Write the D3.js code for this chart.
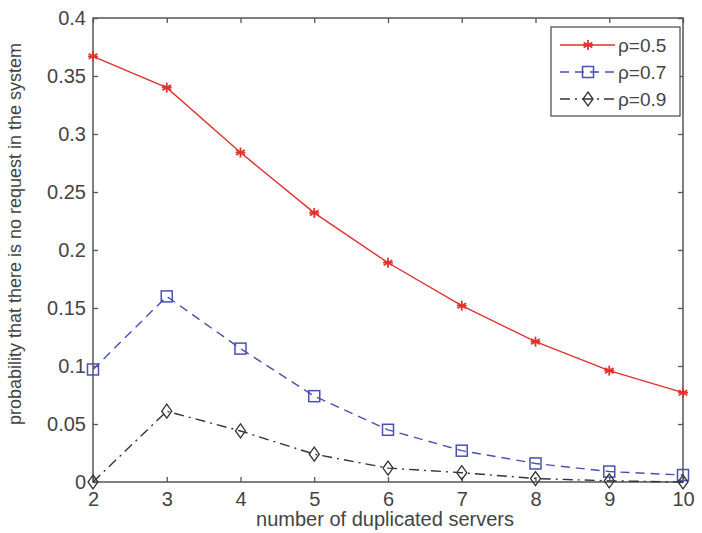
<!DOCTYPE html>
<html>
<head>
<meta charset="utf-8">
<script src="https://cdn.jsdelivr.net/npm/d3@7"></script>
<style>
	body { margin: 0; background: #fff; }
	svg text { font-family: "Liberation Sans", Arial, sans-serif; fill: #444; }
</style>
</head>
<body>
<div class="c-svg"></div>
<script>
//DATA
//-------------------------------------------------------------------------
const servers = [2, 3, 4, 5, 6, 7, 8, 9, 10];
const rho05 = [0.367, 0.340, 0.284, 0.232, 0.189, 0.152, 0.121, 0.096, 0.077];
const rho07 = [0.097, 0.160, 0.115, 0.074, 0.045, 0.027, 0.016, 0.009, 0.006];
const rho09 = [0.000, 0.061, 0.044, 0.024, 0.012, 0.008, 0.003, 0.001, 0.000];
const seriesNames = ["ρ=0.5", "ρ=0.7", "ρ=0.9"];
const yTicks = [0, 0.05, 0.1, 0.15, 0.2, 0.25, 0.3, 0.35, 0.4];
const xLabel = "number of duplicated servers";
const yLabel = "probability that there is no request in the system";

//opts for svg
const opts = {
	width: 702,
	height: 533,
	margin: { top: 18, right: 19, bottom: 51, left: 93 }
};
const innerChart = {
	width: opts.width - opts.margin.left - opts.margin.right,
	height: opts.height - opts.margin.top - opts.margin.bottom
};

const svg = d3.select(".c-svg")
	.append("svg")
	.attr("width", opts.width)
	.attr("height", opts.height);

const g = svg.append("g")
	.attr("transform", `translate(${opts.margin.left} ${opts.margin.top})`);

//scales
const x = d3.scaleLinear().domain([2, 10]).range([0, innerChart.width]);
const y = d3.scaleLinear().domain([0, 0.4]).range([innerChart.height, 0]);

const axisColor = "#555";
const tickFmt = d => d === 0 ? "0" : d3.format("")(d);

//AXES (matlab style, ticks inside, box)
//-------------------------------------------------------------------------
function styleAxis(sel) {
	sel.select(".domain").remove();
	sel.selectAll("line").attr("stroke", axisColor).attr("stroke-width", 1.3);
	sel.selectAll("text").style("font-size", "20px").attr("fill", "#444");
}

g.append("g")
	.attr("transform", `translate(0 ${innerChart.height})`)
	.call(d3.axisBottom(x).tickValues(servers).tickSize(-5).tickPadding(10).tickFormat(d3.format("d")))
	.call(styleAxis);

g.append("g")
	.call(d3.axisTop(x).tickValues(servers).tickSize(-5).tickFormat(""))
	.call(styleAxis);

g.append("g")
	.call(d3.axisLeft(y).tickValues(yTicks).tickSize(-5).tickPadding(7).tickFormat(tickFmt))
	.call(styleAxis);

g.append("g")
	.attr("transform", `translate(${innerChart.width} 0)`)
	.call(d3.axisRight(y).tickValues(yTicks).tickSize(-5).tickFormat(""))
	.call(styleAxis);

g.append("rect")
	.attr("width", innerChart.width)
	.attr("height", innerChart.height)
	.attr("fill", "none")
	.attr("stroke", axisColor)
	.attr("stroke-width", 1.5);

//labels
svg.append("text")
	.attr("x", opts.margin.left + innerChart.width / 2 - 3)
	.attr("y", 526)
	.attr("text-anchor", "middle")
	.style("font-size", "20px")
	.text(xLabel);

svg.append("text")
	.attr("transform", `translate(21 ${opts.margin.top + 216}) rotate(-90)`)
	.attr("text-anchor", "middle")
	.style("font-size", "18px")
	.text(yLabel);

//SERIES
//-------------------------------------------------------------------------
const series = [
	{ name: seriesNames[0], values: rho05, color: "#e0322e", dash: null, marker: "star" },
	{ name: seriesNames[1], values: rho07, color: "#4a4fb3", dash: "9,6", marker: "square" },
	{ name: seriesNames[2], values: rho09, color: "#333", dash: "10,5,2,5", marker: "diamond" }
];

const line = d3.line()
	.x((d, i) => x(servers[i]))
	.y(d => y(d));

function drawMarker(sel, type, color) {
	if (type === "star") {
		const r = 5;
		[0, 60, 120].forEach(a => {
			sel.append("line")
				.attr("x1", 0).attr("y1", -r).attr("x2", 0).attr("y2", r)
				.attr("transform", `rotate(${a})`)
				.attr("stroke", color).attr("stroke-width", 1.8);
		});
		sel.append("line").attr("x1", -r).attr("x2", r).attr("y1", 0).attr("y2", 0)
			.attr("stroke", color).attr("stroke-width", 1.5);
	} else if (type === "square") {
		sel.append("rect")
			.attr("x", -5.5).attr("y", -5.5).attr("width", 11).attr("height", 11)
			.attr("fill", "none").attr("stroke", color).attr("stroke-width", 1.5);
	} else {
		sel.append("path")
			.attr("d", "M0,-7L5,0L0,7L-5,0Z")
			.attr("fill", "none").attr("stroke", color).attr("stroke-width", 1.3);
	}
}

series.forEach(s => {
	g.append("path")
		.datum(s.values)
		.attr("d", line)
		.attr("fill", "none")
		.attr("stroke", s.color)
		.attr("stroke-width", 1.4)
		.attr("stroke-dasharray", s.dash);

	g.selectAll(null)
		.data(s.values)
		.join("g")
		.attr("transform", (d, i) => `translate(${x(servers[i])} ${y(d)})`)
		.each(function () { drawMarker(d3.select(this), s.marker, s.color); });
});

//LEGEND
//-------------------------------------------------------------------------
const legend = svg.append("g").attr("transform", "translate(551 27)");

legend.append("rect")
	.attr("width", 129)
	.attr("height", 89)
	.attr("fill", "#fff")
	.attr("stroke", axisColor)
	.attr("stroke-width", 1.3);

series.forEach((s, i) => {
	const row = legend.append("g").attr("transform", `translate(0 ${18 + i * 27})`);
	row.append("line")
		.attr("x1", 9).attr("x2", 64)
		.attr("stroke", s.color)
		.attr("stroke-width", 1.4)
		.attr("stroke-dasharray", s.dash);
	drawMarker(row.append("g").attr("transform", "translate(37 0)"), s.marker, s.color);
	row.append("text")
		.attr("x", 67)
		.attr("y", 7)
		.style("font-size", "19px")
		.text(s.name);
});
</script>
</body>
</html>
